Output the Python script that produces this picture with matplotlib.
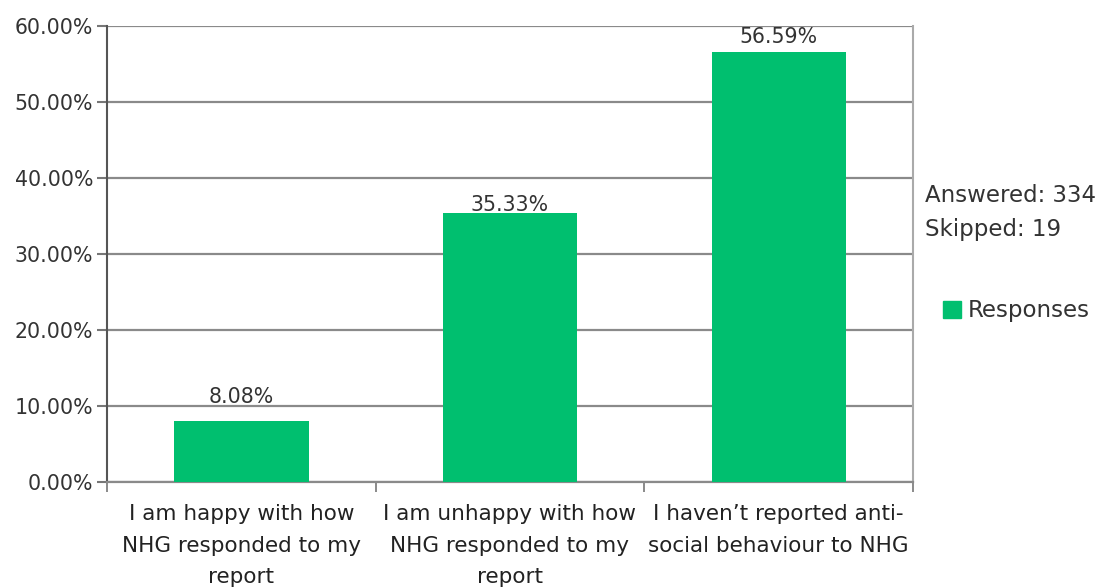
import matplotlib
matplotlib.use("Agg")
import matplotlib.pyplot as plt
from matplotlib.patches import Patch

categories = ["I am happy with how\nNHG responded to my\nreport",
              "I am unhappy with how\nNHG responded to my\nreport",
              "I haven\u2019t reported anti-\nsocial behaviour to NHG"]
values = [8.08, 35.33, 56.59]
value_labels = ["8.08%", "35.33%", "56.59%"]
label_offsets = [10, -1, 3.5]  # points above bar top
yticks = [0, 10, 20, 30, 40, 50, 60]
ytick_labels = ["0.00%", "10.00%", "20.00%", "30.00%", "40.00%", "50.00%", "60.00%"]
series_name = "Responses"
answered_text = "Answered: 334"
skipped_text = "Skipped: 19"

green = "#00BF6F"
W, H = 1105, 587
fig = plt.figure(figsize=(W / 100, H / 100), dpi=100)
ax = fig.add_axes([107 / W, 1 - 482 / H, (913 - 107) / W, (482 - 26) / H])

x = list(range(len(values)))
bars = ax.bar(x, values, width=0.5, color=green, zorder=3)
ax.set_xlim(-0.5, 2.5)
ax.set_ylim(0, 60)

ax.set_yticks(yticks)
ax.set_yticklabels(ytick_labels, fontsize=14.8, color="#333333")
ax.yaxis.grid(True, color="#8a8a8a", linewidth=1.6, zorder=0)
ax.tick_params(axis="y", length=7, width=1.5, color="#777777", pad=3)

ax.set_xticks([-0.5, 0.5, 1.5, 2.5])
ax.set_xticklabels([])
ax.tick_params(axis="x", which="major", length=7, width=1.2, color="#777777")
ax.set_xticks(x, minor=True)
ax.set_xticklabels(categories, minor=True, fontsize=15.5, color="#222222", linespacing=1.72)
ax.tick_params(axis="x", which="minor", length=0, pad=16)

for s in ["top"]:
    ax.spines[s].set_visible(False)
ax.spines["left"].set_color("#555555")
ax.spines["left"].set_linewidth(1.5)
ax.spines["right"].set_color("#aaaaaa")
ax.spines["right"].set_linewidth(1.5)
ax.spines["bottom"].set_color("#8a8a8a")
ax.spines["bottom"].set_linewidth(1.6)

for xi, v, lab, off in zip(x, values, value_labels, label_offsets):
    ax.annotate(lab, (xi, v), xytext=(0, off), textcoords="offset points",
                ha="center", va="bottom", fontsize=14.8, color="#333333", zorder=4)

fig.text(925 / W, 1 - 202 / H, answered_text, fontsize=16.5, color="#333333", va="baseline")
fig.text(925 / W, 1 - 236 / H, skipped_text, fontsize=16.5, color="#333333", va="baseline")

leg = fig.legend(handles=[Patch(facecolor=green, edgecolor=green)], labels=[series_name],
                 loc="center left", bbox_to_anchor=(943 / W, 1 - 311 / H), frameon=False,
                 fontsize=16.5, handlelength=0.8, handleheight=0.8, handletextpad=0.3,
                 borderpad=0, borderaxespad=0)
for t in leg.get_texts():
    t.set_color("#333333")

fig.savefig("out.png", dpi=100)
